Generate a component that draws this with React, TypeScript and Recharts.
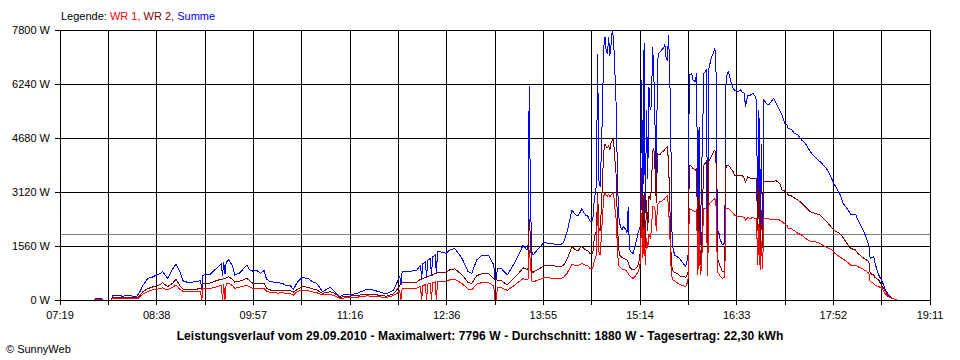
import React from 'react';
import { LineChart, Line, XAxis, YAxis, CartesianGrid, ReferenceLine } from 'recharts';

// time of day in minutes since midnight
const times = [
  439, 467, 468, 473, 474, 481, 482, 486, 490, 494,
  498, 502, 504, 507, 511, 514, 518, 521, 523, 527,
  531, 534, 537, 540, 545, 551, 554, 555, 556, 562,
  567, 571, 572, 573, 574, 575, 577, 580, 582, 586,
  592, 594, 597, 600, 603, 606, 608, 611, 617, 621,
  624, 627, 630, 633, 637, 642, 646, 649, 654, 660,
  664, 668, 672, 676, 682, 690, 695, 701, 706, 712,
  716, 717, 718, 719, 725, 731, 734, 735, 736, 738,
  739, 740, 742, 743, 744, 746, 747, 748, 750, 755,
  758, 762, 768, 773, 776, 780, 784, 790, 794, 795,
  796, 797, 800, 805, 810, 815, 818, 821, 822, 823,
  824, 825, 826, 832, 835, 837, 843, 848, 851, 854,
  858, 861, 863, 866, 869, 871, 873, 875, 876, 877,
  878, 879, 880, 881, 882, 883, 884, 885, 886, 887,
  888, 889, 890, 891, 892, 893, 894, 895, 896, 897,
  898, 899, 900, 902, 903, 904, 905, 906, 908, 910,
  912, 913, 914, 915, 916, 917, 918, 919, 920, 921,
  922, 923, 924, 925, 926, 927, 928, 929, 930, 931,
  932, 933, 934, 935, 936, 937, 938, 939, 940, 942,
  944, 946, 948, 950, 951, 952, 953, 954, 956, 957,
  959, 960, 961, 962, 963, 964, 965, 966, 968, 969,
  970, 972, 974, 975, 976, 977, 978, 979, 981, 983,
  984, 985, 986, 988, 990, 991, 994, 996, 997, 999,
  1000, 1002, 1004, 1006, 1008, 1009, 1010, 1011, 1012, 1013,
  1014, 1015, 1017, 1019, 1021, 1023, 1025, 1028, 1030, 1032,
  1034, 1035, 1038, 1040, 1043, 1046, 1049, 1053, 1057, 1061,
  1065, 1068, 1071, 1073, 1077, 1080, 1083, 1086, 1090, 1092,
  1095, 1098, 1101, 1102, 1105, 1106, 1109, 1112, 1114, 1117,
  1120, 1124, 1151,
];

const summe = [
  0, 0, 30, 30, 0, 0, 120, 140, 110, 130,
  115, 115, 210, 430, 626, 650, 722, 770, 818, 626,
  880, 1040, 820, 530, 510, 530, 560, 300, 720, 740,
  915, 1050, 700, 1100, 750, 1100, 1155, 1000, 722, 780,
  1011, 880, 830, 860, 770, 850, 600, 530, 500, 480,
  420, 433, 308, 500, 655, 620, 520, 482, 240, 366,
  240, 96, 173, 150, 190, 308, 290, 230, 173, 290,
  597, 700, 450, 818, 818, 867, 1000, 620, 1050, 1100,
  660, 1150, 1200, 720, 1250, 1300, 780, 1396, 1396, 1348,
  1444, 1492, 1203, 818, 770, 1155, 1280, 1280, 1011, 600,
  600, 915, 915, 722, 1011, 1348, 1589, 1444, 1500, 6182,
  3000, 1400, 1300, 1540, 1666, 1650, 1620, 1590, 1650, 1974,
  2600, 2456, 2420, 2629, 2456, 2420, 2263, 2300, 2793, 3082,
  3300, 7100, 3467, 3274, 4200, 5585, 7300, 7600, 7200, 7100,
  7608, 7050, 7400, 7796, 7550, 6700, 5800, 4000, 2500, 2215,
  2100, 2022, 2118, 2050, 1926, 2696, 1500, 1400, 1348, 1600,
  1926, 2050, 2118, 6356, 2696, 7415, 2504, 5500, 3500, 6163,
  5500, 5600, 7319, 6500, 5000, 3400, 6900, 7126, 7170, 7200,
  7250, 7270, 7400, 7000, 6900, 7655, 6650, 4400, 1589, 1300,
  1250, 1203, 1100, 1011, 962, 1100, 1300, 6500, 6548, 6355,
  6307, 6550, 1781, 5000, 1589, 3500, 5000, 6548, 6644, 1685,
  6692, 6981, 7174, 7270, 6500, 1781, 2000, 1781, 1589, 1650,
  6211, 6548, 6596, 6307, 6115, 6066, 6018, 6066, 6018, 5970,
  5585, 5922, 5922, 5970, 5874, 5777, 2000, 5500, 2100, 4500,
  1700, 5777, 5681, 5633, 5729, 5826, 5681, 5488, 5344, 5103,
  5055, 4959, 4911, 4814, 4766, 4622, 4526, 4285, 4121, 3996,
  3852, 3707, 3466, 3322, 3081, 2792, 2648, 2484, 2484, 2311,
  2118, 1877, 1588, 1203, 1251, 1059, 722, 529, 330, 144,
  48, 0, 0,
];

const wr2 = [
  0, 0, 10, 10, 0, 0, 60, 70, 65, 70,
  65, 67, 110, 250, 330, 370, 400, 450, 500, 385,
  480, 597, 420, 308, 310, 315, 330, 300, 480, 490,
  560, 600, 600, 620, 620, 640, 674, 600, 520, 540,
  626, 560, 480, 480, 482, 482, 340, 289, 280, 289,
  270, 270, 230, 300, 384, 370, 320, 289, 193, 240,
  190, 77, 100, 115, 130, 173, 170, 130, 110, 180,
  350, 430, 440, 500, 500, 520, 600, 600, 620, 650,
  650, 680, 700, 700, 730, 760, 760, 790, 800, 800,
  870, 900, 730, 500, 480, 700, 760, 760, 620, 600,
  600, 560, 560, 440, 610, 800, 930, 880, 900, 2340,
  1800, 850, 800, 920, 1000, 1000, 990, 960, 1000, 1180,
  1540, 1450, 1430, 1560, 1450, 1420, 1330, 1348, 1700, 1900,
  2000, 3100, 2100, 2000, 2600, 3500, 4300, 4500, 4430, 4400,
  4450, 4333, 4550, 4620, 4650, 4100, 3700, 2500, 1540, 1300,
  1252, 1230, 1200, 1180, 1155, 1100, 960, 915, 867, 900,
  1000, 1150, 1400, 3800, 1540, 3100, 1500, 2900, 2000, 3000,
  2900, 3200, 4300, 4400, 3755, 2800, 4237, 4200, 4200, 4250,
  4285, 4300, 4350, 4400, 4429, 4000, 2900, 1400, 866, 800,
  770, 700, 680, 673, 650, 700, 818, 3900, 3850, 3800,
  3750, 3800, 1200, 3000, 1010, 1200, 3000, 3900, 4000, 1100,
  4000, 4150, 4285, 4333, 3900, 1200, 1100, 1000, 820, 850,
  3800, 3900, 3900, 3800, 3707, 3611, 3600, 3600, 3611, 3514,
  3400, 3560, 3514, 3514, 3514, 3514, 2000, 3300, 1250, 2600,
  1500, 3418, 3418, 3418, 3418, 3418, 3450, 3370, 3177, 3150,
  3100, 3033, 3000, 2950, 2888, 2800, 2696, 2551, 2500, 2455,
  2311, 2200, 2070, 2000, 1925, 1800, 1637, 1492, 1444, 1350,
  1251, 1180, 1107, 770, 722, 650, 577, 385, 289, 100,
  48, 0, 0,
];

const wr1 = [
  0, 0, 10, 10, 0, 0, 40, 40, 38, 40,
  38, 38, 70, 180, 250, 285, 308, 330, 350, 290,
  370, 433, 310, 240, 240, 240, 250, 0, 330, 337,
  380, 420, 0, 450, 0, 470, 482, 420, 337, 370,
  433, 380, 337, 320, 320, 330, 260, 221, 200, 210,
  190, 193, 144, 240, 289, 270, 230, 212, 144, 160,
  120, 48, 60, 60, 80, 120, 110, 90, 70, 130,
  220, 280, 0, 320, 320, 340, 400, 0, 420, 440,
  0, 460, 480, 0, 500, 520, 0, 540, 540, 540,
  580, 600, 480, 310, 290, 460, 500, 500, 400, 0,
  0, 360, 360, 280, 400, 540, 620, 580, 600, 1444,
  1100, 560, 520, 600, 640, 640, 630, 620, 650, 770,
  1030, 1000, 990, 1060, 1000, 990, 900, 900, 1100, 1200,
  1300, 3000, 1400, 1300, 1800, 2400, 3000, 3080, 3030, 3000,
  3050, 2980, 3030, 3080, 3100, 2700, 2400, 1700, 1000, 963,
  930, 900, 880, 860, 818, 780, 700, 674, 626, 700,
  800, 900, 1100, 2500, 1200, 2100, 1000, 1800, 1500, 1900,
  1800, 2000, 2696, 2700, 2600, 2000, 2750, 2790, 2840, 2850,
  2860, 2900, 2930, 2980, 3000, 2700, 2000, 1000, 600, 550,
  500, 460, 420, 400, 385, 450, 625, 2648, 2600, 2580,
  2551, 2600, 720, 2000, 720, 900, 2000, 2650, 2650, 700,
  2744, 2850, 2900, 2937, 2700, 818, 760, 700, 626, 650,
  2648, 2648, 2648, 2580, 2503, 2450, 2407, 2407, 2407, 2380,
  2300, 2380, 2358, 2380, 2358, 2358, 1000, 2200, 866, 1700,
  900, 2358, 2358, 2340, 2340, 2330, 2330, 2310, 2260, 2200,
  2150, 2070, 2050, 2000, 1925, 1877, 1781, 1700, 1685, 1637,
  1540, 1500, 1444, 1348, 1251, 1180, 1107, 1011, 1011, 960,
  915, 850, 770, 529, 481, 430, 385, 337, 192, 90,
  48, 0, 0,
];

const xTickLabels = [
  '07:19', '', '08:38', '', '09:57', '', '11:16', '', '12:36', '',
  '13:55', '', '15:14', '', '16:33', '', '17:52', '', '19:11',
];
const yTicks = [0, 1560, 3120, 4680, 6240, 7800];
const averageW = 1880;
const legendLabel = 'Legende: ';
const seriesNames = ['WR 1', 'WR 2', 'Summe'];
const seriesColors = ['#ff0000', '#800000', '#0000ff'];
const title =
  'Leistungsverlauf vom 29.09.2010 - Maximalwert: 7796 W - Durchschnitt: 1880 W - Tagesertrag: 22,30 kWh';
const copyright = '\u00A9 SunnyWeb';

const START = 439;
const END = 1151;
const xTicks = xTickLabels.map(
  (_, i) => START + (i * (END - START)) / (xTickLabels.length - 1)
);

const data = times.map((t, i) => ({ t, summe: summe[i], wr2: wr2[i], wr1: wr1[i] }));

const FONT = '"Liberation Sans", Arial, sans-serif';

export default function App() {
  return (
    <div
      style={{
        position: 'absolute',
        left: 0,
        top: 0,
        width: 960,
        height: 360,
        background: '#fff',
        fontFamily: FONT,
        color: '#000',
      }}
    >
      <div style={{ position: 'absolute', left: 61, top: 10, fontSize: 11, whiteSpace: 'pre' }}>
        <span>{legendLabel}</span>
        {seriesNames.map((n, i) => (
          <span key={n} style={{ color: seriesColors[i] }}>
            {n}
            {i < seriesNames.length - 1 ? ', ' : ''}
          </span>
        ))}
      </div>
      <LineChart
        width={960}
        height={360}
        data={data}
        margin={{ top: 30, right: 30, bottom: 0, left: 0 }}
        style={{ fontFamily: FONT }}
      >
        <CartesianGrid stroke="#000" strokeWidth={1} shapeRendering="crispEdges" />
        <XAxis
          type="number"
          dataKey="t"
          domain={[START, END]}
          ticks={xTicks}
          interval={0}
          allowDataOverflow
          tickFormatter={(v: number) => {
            const idx = xTicks.findIndex((x) => Math.abs(x - v) < 0.01);
            return idx >= 0 ? xTickLabels[idx] : '';
          }}
          height={60}
          tickSize={5}
          tickMargin={6}
          stroke="#000"
          tick={{ fill: '#000', fontSize: 11 }}
          shapeRendering="crispEdges"
        />
        <YAxis
          type="number"
          domain={[0, 7800]}
          ticks={yTicks}
          interval={0}
          tickFormatter={(v: number) => `${v} W`}
          width={60}
          tickSize={5}
          tickMargin={5}
          stroke="#000"
          tick={{ fill: '#000', fontSize: 11 }}
          shapeRendering="crispEdges"
        />
        <ReferenceLine y={averageW} stroke="#808080" strokeWidth={1} shapeRendering="crispEdges" />
        <Line
          dataKey="summe"
          type="linear"
          stroke={seriesColors[2]}
          strokeWidth={1}
          dot={false}
          isAnimationActive={false}
          shapeRendering="crispEdges"
        />
        <Line
          dataKey="wr2"
          type="linear"
          stroke={seriesColors[1]}
          strokeWidth={1}
          dot={false}
          isAnimationActive={false}
          shapeRendering="crispEdges"
        />
        <Line
          dataKey="wr1"
          type="linear"
          stroke={seriesColors[0]}
          strokeWidth={1}
          dot={false}
          isAnimationActive={false}
          shapeRendering="crispEdges"
        />
      </LineChart>
      <div
        style={{
          position: 'absolute',
          left: 0,
          top: 329,
          width: 960,
          textAlign: 'center',
          fontSize: 12,
          letterSpacing: 0.1,
          fontWeight: 'bold',
          whiteSpace: 'pre',
        }}
      >
        {title}
      </div>
      <div style={{ position: 'absolute', left: 6, top: 343, fontSize: 11 }}>{copyright}</div>
    </div>
  );
}
